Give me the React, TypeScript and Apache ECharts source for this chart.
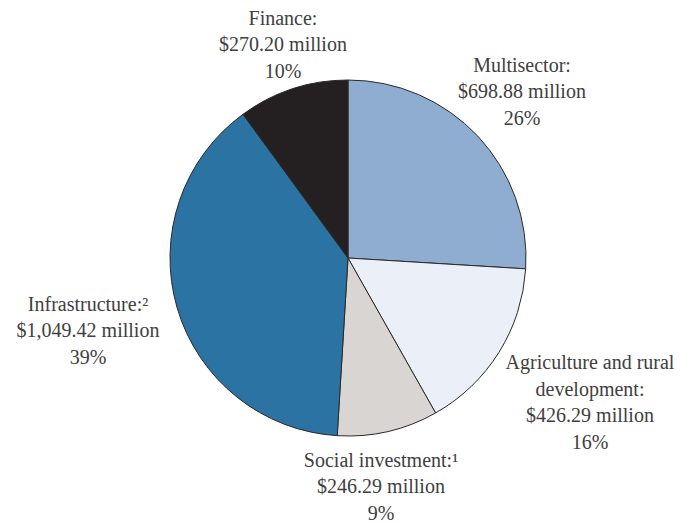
import React, { useEffect, useRef } from "react";
import * as echarts from "echarts";

const categories = ["Multisector", "Agriculture and rural\ndevelopment", "Social investment", "Infrastructure", "Finance"];
const notes = ["", "", "¹", "²", ""];
const valuesMillions = [698.88, 426.29, 246.29, 1049.42, 270.2];
const percents = [26, 16, 9, 39, 10];
const colors = ["#8eadd0", "#ebf0f8", "#d9d5d3", "#2b73a3", "#241f20"];
const labelCenters: [number, number][] = [
  [522, 91],
  [590, 402],
  [381, 486],
  [88, 330],
  [283, 44],
];

function fmt(v: number) {
  return "$" + v.toLocaleString("en-US", { minimumFractionDigits: 2, maximumFractionDigits: 2 }) + " million";
}

export default function App() {
  const ref = useRef<HTMLDivElement>(null);
  useEffect(() => {
    document.body.style.margin = "0";
    const chart = echarts.init(ref.current!, null, { renderer: "svg" });
    chart.setOption({
      animation: false,
      backgroundColor: "#ffffff",
      series: [
        {
          type: "pie",
          center: [348, 258],
          radius: [0, 178],
          startAngle: 90,
          clockwise: true,
          avoidLabelOverlap: false,
          itemStyle: { borderColor: "#2a2a2a", borderWidth: 1 },
          label: {
            show: true,
            position: "outside",
            color: "#404040",
            fontFamily: "Liberation Serif",
            fontSize: 20,
            lineHeight: 26.5,
            align: "center",
            formatter: (p: any) =>
              `${categories[p.dataIndex]}:${notes[p.dataIndex]}\n${fmt(valuesMillions[p.dataIndex])}\n${percents[p.dataIndex]}%`,
          },
          labelLine: { show: false },
          labelLayout: (p: any) => ({
            x: labelCenters[p.dataIndex][0],
            y: labelCenters[p.dataIndex][1],
            align: "center",
            verticalAlign: "middle",
          }),
          emphasis: { disabled: true },
          data: valuesMillions.map((v, i) => ({
            name: categories[i],
            value: v,
            itemStyle: { color: colors[i] },
          })),
        },
      ],
    });
    return () => chart.dispose();
  }, []);
  return <div ref={ref} style={{ width: 689, height: 523 }} />;
}
